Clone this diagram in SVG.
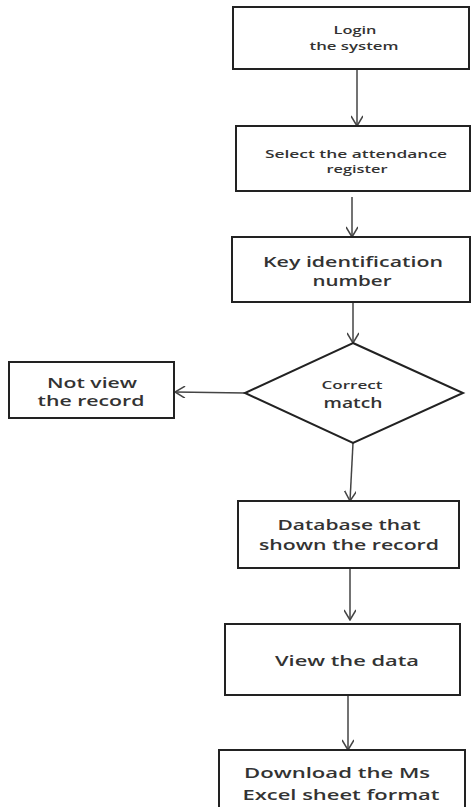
<svg xmlns="http://www.w3.org/2000/svg" width="472" height="807" viewBox="0 0 472 807">
<style>
.box{fill:#fff;stroke:#222;stroke-width:2}
.t{font-family:"Open Sans","Liberation Sans",sans-serif;font-weight:600;fill:#333;text-anchor:middle}
.s{font-size:11px}
.m{font-size:15px}
.c{fill:none;stroke:#444;stroke-width:1.5}
</style>
<defs>
<marker id="a" viewBox="0 0 12 12" refX="11" refY="6" markerWidth="12" markerHeight="12" markerUnits="userSpaceOnUse" orient="auto">
<polyline points="1,0 11,6 1,12" fill="none" stroke="#444" stroke-width="1.5"/>
</marker>
</defs>
<rect width="472" height="807" fill="#fff"/>
<g id="connectors">
<line class="c" x1="357" y1="69" x2="357" y2="126" marker-end="url(#a)"/>
<line class="c" x1="352" y1="197" x2="352" y2="237" marker-end="url(#a)"/>
<line class="c" x1="353" y1="302" x2="353" y2="343" marker-end="url(#a)"/>
<line class="c" x1="245" y1="393" x2="175" y2="392" marker-end="url(#a)"/>
<line class="c" x1="353" y1="443" x2="350" y2="501" marker-end="url(#a)"/>
<line class="c" x1="350" y1="568" x2="350" y2="620" marker-end="url(#a)"/>
<line class="c" x1="348" y1="695" x2="348" y2="750" marker-end="url(#a)"/>
</g>
<g id="login">
<rect class="box" x="233" y="7" width="236" height="62"/>
<text class="t s" x="355" y="34" textLength="43" lengthAdjust="spacingAndGlyphs">Login</text>
<text class="t s" x="354" y="50" textLength="89" lengthAdjust="spacingAndGlyphs">the system</text>
</g>
<g id="select">
<rect class="box" x="236" y="126" width="234" height="65"/>
<text class="t s" x="356" y="158" textLength="182" lengthAdjust="spacingAndGlyphs">Select the attendance</text>
<text class="t s" x="357" y="173" textLength="61" lengthAdjust="spacingAndGlyphs">register</text>
</g>
<g id="key">
<rect class="box" x="232" y="237" width="238" height="65"/>
<text class="t m" x="353" y="267" textLength="180" lengthAdjust="spacingAndGlyphs">Key identification</text>
<text class="t m" x="352" y="286" textLength="79" lengthAdjust="spacingAndGlyphs">number</text>
</g>
<g id="decision">
<polygon points="353,343 463,393 353,443 245,393" fill="#fff" stroke="#222" stroke-width="2"/>
<text class="t s" x="352" y="389" textLength="61" lengthAdjust="spacingAndGlyphs">Correct</text>
<text class="t m" x="353" y="408" textLength="59" lengthAdjust="spacingAndGlyphs">match</text>
</g>
<g id="notview">
<rect class="box" x="9" y="362" width="165" height="56"/>
<text class="t m" x="92" y="388" textLength="90" lengthAdjust="spacingAndGlyphs">Not view</text>
<text class="t m" x="91" y="406" textLength="107" lengthAdjust="spacingAndGlyphs">the record</text>
</g>
<g id="database">
<rect class="box" x="238" y="501" width="221" height="67"/>
<text class="t m" x="349" y="530" textLength="143" lengthAdjust="spacingAndGlyphs">Database that</text>
<text class="t m" x="349" y="550" textLength="180" lengthAdjust="spacingAndGlyphs">shown the record</text>
</g>
<g id="view">
<rect class="box" x="225" y="624" width="235" height="71"/>
<text class="t m" x="347" y="666" textLength="144" lengthAdjust="spacingAndGlyphs">View the data</text>
</g>
<g id="download">
<rect class="box" x="219" y="750" width="246" height="72"/>
<text class="t m" x="337" y="778" textLength="186" lengthAdjust="spacingAndGlyphs">Download the Ms</text>
<text class="t m" x="341" y="800" textLength="197" lengthAdjust="spacingAndGlyphs">Excel sheet format</text>
</g>
</svg>
